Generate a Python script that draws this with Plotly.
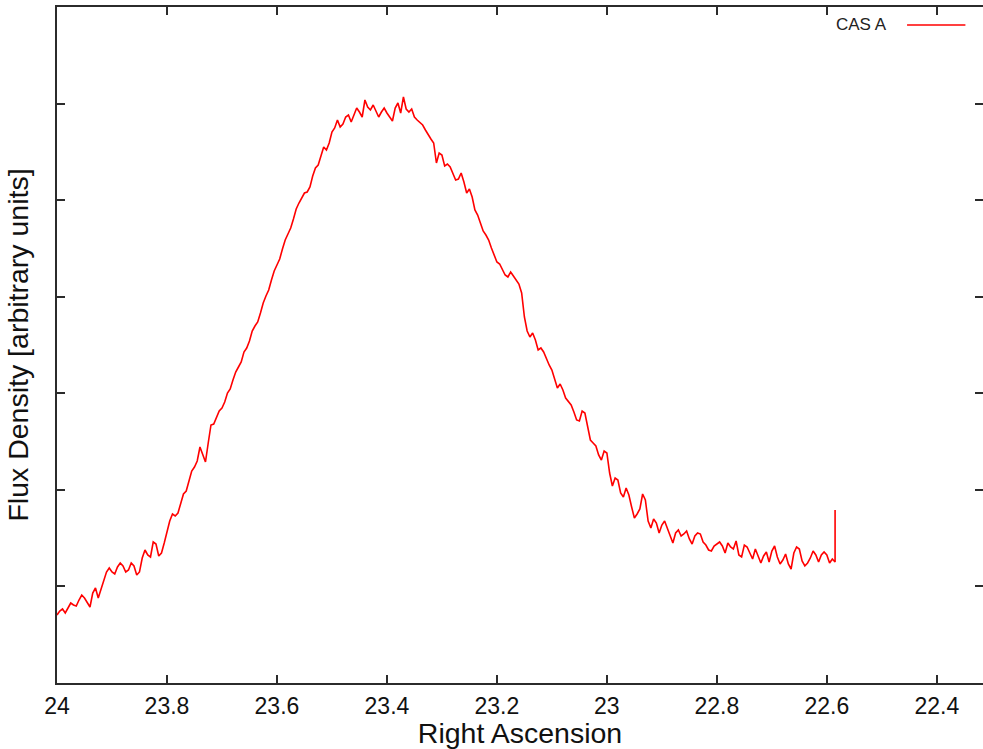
import plotly.graph_objects as go

# Drift scan of Cassiopeia A: right ascension (hours) vs. received flux
ra_hours = [
    24.000, 23.995, 23.990, 23.985, 23.980, 23.975, 23.970, 23.965, 23.960, 23.955,
    23.950, 23.945, 23.940, 23.935, 23.930, 23.925, 23.920, 23.915, 23.910, 23.905,
    23.900, 23.895, 23.890, 23.885, 23.880, 23.875, 23.870, 23.865, 23.860, 23.855,
    23.850, 23.845, 23.840, 23.835, 23.830, 23.825, 23.820, 23.815, 23.810, 23.805,
    23.800, 23.795, 23.790, 23.785, 23.780, 23.775, 23.770, 23.765, 23.760, 23.755,
    23.750, 23.745, 23.740, 23.735, 23.730, 23.725, 23.720, 23.715, 23.710, 23.705,
    23.700, 23.695, 23.690, 23.685, 23.680, 23.675, 23.670, 23.665, 23.660, 23.655,
    23.650, 23.645, 23.640, 23.635, 23.630, 23.625, 23.620, 23.615, 23.610, 23.605,
    23.600, 23.595, 23.590, 23.585, 23.580, 23.575, 23.570, 23.565, 23.560, 23.555,
    23.550, 23.545, 23.540, 23.535, 23.530, 23.525, 23.520, 23.515, 23.510, 23.505,
    23.500, 23.495, 23.490, 23.485, 23.480, 23.475, 23.470, 23.465, 23.460, 23.455,
    23.450, 23.445, 23.440, 23.435, 23.430, 23.425, 23.420, 23.415, 23.410, 23.405,
    23.400, 23.395, 23.390, 23.385, 23.380, 23.375, 23.370, 23.365, 23.360, 23.355,
    23.350, 23.345, 23.340, 23.335, 23.330, 23.325, 23.320, 23.315, 23.310, 23.305,
    23.300, 23.295, 23.290, 23.285, 23.280, 23.275, 23.270, 23.265, 23.260, 23.255,
    23.250, 23.245, 23.240, 23.235, 23.230, 23.225, 23.220, 23.215, 23.210, 23.205,
    23.200, 23.195, 23.190, 23.185, 23.180, 23.175, 23.170, 23.165, 23.160, 23.155,
    23.150, 23.145, 23.140, 23.135, 23.130, 23.125, 23.120, 23.115, 23.110, 23.105,
    23.100, 23.095, 23.090, 23.085, 23.080, 23.075, 23.070, 23.065, 23.060, 23.055,
    23.050, 23.045, 23.040, 23.035, 23.030, 23.025, 23.020, 23.015, 23.010, 23.005,
    23.000, 22.995, 22.990, 22.985, 22.980, 22.975, 22.970, 22.965, 22.960, 22.955,
    22.950, 22.945, 22.940, 22.935, 22.930, 22.925, 22.920, 22.915, 22.910, 22.905,
    22.900, 22.895, 22.890, 22.885, 22.880, 22.875, 22.870, 22.865, 22.860, 22.855,
    22.850, 22.845, 22.840, 22.835, 22.830, 22.825, 22.820, 22.815, 22.810, 22.805,
    22.800, 22.795, 22.790, 22.785, 22.780, 22.775, 22.770, 22.765, 22.760, 22.755,
    22.750, 22.745, 22.740, 22.735, 22.730, 22.725, 22.720, 22.715, 22.710, 22.705,
    22.700, 22.695, 22.690, 22.685, 22.680, 22.675, 22.670, 22.665, 22.660, 22.655,
    22.650, 22.645, 22.640, 22.635, 22.630, 22.625, 22.620, 22.615, 22.610, 22.605,
    22.600, 22.595, 22.590, 22.585, 22.585,
]

flux_cas_a = [
    68, 72, 74, 70, 75, 80, 78, 77, 83, 88,
    85, 80, 76, 90, 95, 85, 93, 101, 111, 115,
    111, 109, 116, 120, 117, 111, 113, 120, 117, 108,
    111, 125, 133, 128, 126, 141, 139, 127, 130, 140,
    151, 162, 169, 167, 170, 180, 189, 192, 201, 212,
    216, 222, 236, 228, 221, 240, 258, 259, 266, 272,
    275, 281, 290, 294, 303, 311, 316, 321, 331, 335,
    342, 352, 357, 361, 370, 380, 387, 393, 403, 412,
    418, 424, 434, 443, 449, 455, 464, 474, 480, 485,
    490, 491, 496, 507, 515, 518, 528, 536, 533, 540,
    551, 555, 563, 556, 559, 566, 568, 561, 568, 575,
    571, 566, 583, 576, 573, 578, 572, 566, 571, 575,
    570, 566, 562, 575, 580, 570, 586, 574, 571, 574,
    566, 563, 560, 558, 553, 548, 544, 540, 520, 530,
    528, 517, 519, 516, 510, 503, 504, 510, 501, 490,
    494, 486, 473, 468, 460, 452, 448, 443, 435, 427,
    421, 419, 413, 408, 406, 411, 407, 403, 399, 390,
    366, 352, 346, 350, 343, 333, 335, 331, 324, 318,
    313, 304, 295, 299, 293, 285, 282, 278, 271, 263,
    262, 272, 270, 255, 243, 240, 237, 228, 223, 232,
    230, 210, 197, 205, 203, 190, 186, 195, 188, 176,
    165, 169, 174, 189, 183, 162, 155, 164, 160, 150,
    158, 162, 155, 148, 140, 150, 153, 147, 149, 152,
    144, 139, 147, 150, 149, 141, 138, 133, 132, 137,
    139, 141, 137, 130, 140, 136, 134, 142, 128, 126,
    138, 136, 130, 124, 134, 127, 120, 127, 131, 121,
    132, 137, 126, 119, 123, 129, 119, 114, 130, 136,
    134, 122, 117, 120, 125, 132, 128, 121, 128, 131,
    128, 120, 124, 121, 173,
]

x_tick_values = [24.0, 23.8, 23.6, 23.4, 23.2, 23.0, 22.8, 22.6, 22.4]
x_tick_labels = ["24", "23.8", "23.6", "23.4", "23.2", "23", "22.8", "22.6", "22.4"]
y_tick_values = [0, 96.6, 193.1, 289.7, 386.3, 482.9, 579.4, 676]

series_name = "CAS A"
line_color = "#ff0000"
frame_color = "#2b2b2b"
font_family = "Liberation Sans, Arial, sans-serif"

fig = go.Figure()
fig.add_trace(go.Scatter(
    x=ra_hours, y=flux_cas_a, mode="lines", name=series_name,
    line=dict(color=line_color, width=1.6), showlegend=False,
))
# empty helper trace so the right-hand tick axis is drawn
fig.add_trace(go.Scatter(x=[ra_hours[0]], y=[flux_cas_a[0]], yaxis="y2",
                         mode="lines", line=dict(width=0), showlegend=False,
                         hoverinfo="skip"))

fig.update_layout(
    width=983, height=749,
    margin=dict(l=57, r=0, t=7, b=66),
    paper_bgcolor="white", plot_bgcolor="white",
    font=dict(family=font_family, color="#111111"),
    xaxis=dict(
        range=[24.0, 22.316], tickvals=x_tick_values, ticktext=x_tick_labels,
        ticks="inside", ticklen=8, tickwidth=1.5, tickcolor=frame_color,
        showline=True, linecolor=frame_color, linewidth=2, mirror="ticks",
        showgrid=False, zeroline=False,
        tickfont=dict(size=23, family=font_family, color="#111111"),
        ticklabelstandoff=1,
        title=dict(text="Right Ascension", standoff=4,
                   font=dict(size=28.5, family=font_family, color="#111111")),
        automargin=False,
    ),
    yaxis=dict(
        range=[0, 676], tickvals=y_tick_values, showticklabels=False,
        ticks="inside", ticklen=8, tickwidth=1.5, tickcolor=frame_color,
        showline=True, linecolor=frame_color, linewidth=2, mirror=False,
        showgrid=False, zeroline=False,
        title=dict(text="Flux Density [arbitrary units]", standoff=18,
                   font=dict(size=28.5, family=font_family, color="#111111")),
        automargin=False,
    ),
    yaxis2=dict(
        overlaying="y", side="right", range=[0, 676], tickvals=y_tick_values,
        showticklabels=False, ticks="inside", ticklen=8, tickwidth=1.5,
        tickcolor=frame_color, showline=False, showgrid=False, zeroline=False,
        automargin=False,
    ),
)

# gnuplot-style key: label on the left, line sample on the right
fig.add_annotation(
    xref="paper", yref="paper", x=0.899, y=0.9734, xanchor="right", yanchor="middle",
    text=series_name, showarrow=False,
    font=dict(size=17, family=font_family, color="#222222"),
)
fig.add_shape(
    type="line", xref="paper", yref="paper", x0=0.918, x1=0.981, y0=0.9734, y1=0.9734,
    line=dict(color=line_color, width=1.3),
)

fig.write_html("out.html")
